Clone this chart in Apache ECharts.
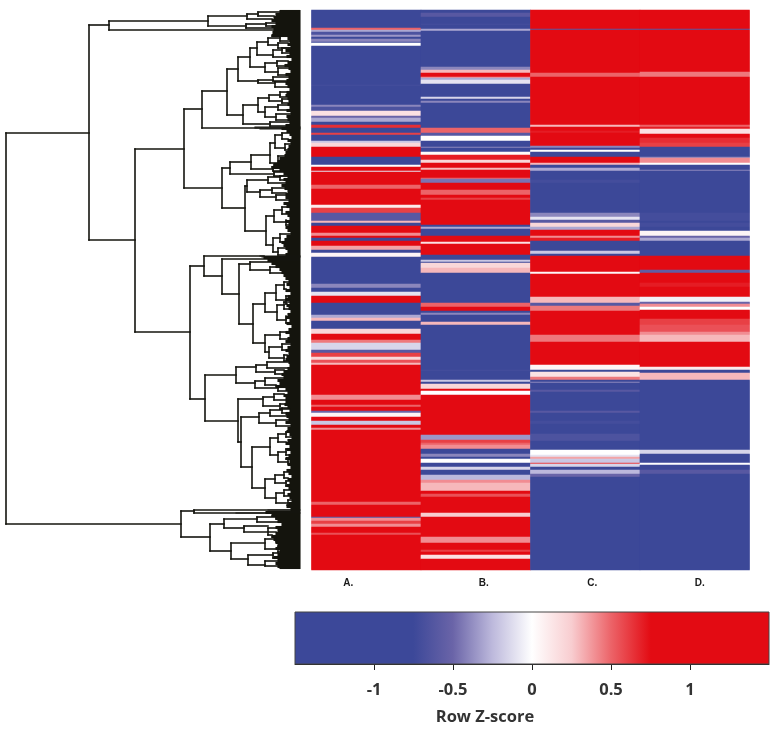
<!DOCTYPE html>
<html><head><meta charset="utf-8">
<style>html,body{margin:0;padding:0;background:#fff}#c{width:771px;height:729px}</style>
<script src="https://cdn.jsdelivr.net/npm/echarts@6/dist/echarts.min.js"></script>
</head><body><div id="c"></div>
<script>
// Samples and tick labels
const sampleNames = ['A.', 'B.', 'C.', 'D.'];
const keyTicks = [-1, -0.5, 0, 0.5, 1];
const keyColors = ['#3c4899','#3c4899','#3c4899','#3c4899','#6a64a8','#bdb9dc','#ffffff','#f8cdd0','#ec6368','#e30b13','#e30b13','#e30b13','#e30b13'];

// Row z-scores, as runs: [row where the run ends, z-score]
const colA = [[28,-1.3],[30,0.5],[32,-0.3],[35,-0.65],[37,-0.35],[39,-0.9],[42,-0.4],[43,-1.2],[46,0],[85,-1.2],[86,-0.7],[95,-1.2],[96,-0.75],[105,-1.2],[107,-0.4],[111,-0.65],[116,0.15],[118,-0.5],[122,-0.3],[124,-1.4],[125,-1],[128,0.65],[133,-1.2],[135,0.6],[141,-1.2],[143,-0.2],[147,0.2],[157,1.2],[165,-1.2],[167,0],[171,1.2],[172,-0.1],[185,1.2],[189,0.5],[200,1.2],[205,0.9],[208,0.1],[213,0.6],[221,-0.6],[223,0.3],[226,-1.2],[233,1.2],[236,0.4],[238,0.8],[241,-1.2],[246,1.2],[250,0.35],[253,-1.2],[257,0.05],[275,-1.2],[276,-0.9],[284,-1.2],[288,-0.4],[292,-1.4],[296,-0.1],[303,1.2],[315,-1.2],[318,-0.3],[321,0.3],[329,-1.2],[334,0.2],[340,1.2],[343,0.45],[350,-0.15],[353,-0.6],[357,0.6],[360,0.2],[363,0.55],[365,0.3],[395,1.2],[400,0.4],[405,1.2],[407,0.5],[411,1.2],[413,-0.5],[417,0.05],[421,1.2],[425,-0.2],[428,1.2],[430,0.4],[502,1.2],[505,0.5],[517,1.2],[518,-0.6],[521,0.4],[524,0.6],[527,0.4],[533,1.2],[535,0.55],[570,1.2]];
const colB = [[13,-1.2],[17,-0.6],[24,-1.2],[25,-0.7],[29,-1.2],[31,-0.3],[67,-1.2],[70,-0.4],[73,0.3],[77,0.9],[78,0.4],[80,-0.3],[84,-0.1],[97,-1.2],[99,-0.15],[101,-1.2],[103,-0.4],[124,-1.2],[128,-0.9],[133,0.5],[136,-0.6],[141,0],[147,-1.2],[148,-0.4],[152,-1.2],[155,0.02],[160,0.7],[163,0.2],[168,1.2],[170,0.3],[178,0.95],[179,0.5],[183,-0.45],[190,1.2],[195,0.5],[198,1.2],[200,0.6],[225,1.2],[227,-1.2],[229,-0.3],[236,-1.2],[242,0.75],[244,0.15],[255,1.2],[260,-1.2],[262,-0.2],[263,-1.3],[268,0.2],[273,0.3],[276,-1.2],[277,-0.8],[290,-1.2],[291,-0.75],[303,-1.2],[307,0.5],[311,1.1],[313,-1.2],[315,-0.4],[322,-1.2],[325,0.3],[370,-1.2],[371,-0.7],[380,-1.2],[382,-0.2],[384,-1.2],[389,0.2],[391,0.85],[395,0],[435,1.2],[440,-0.35],[443,0.6],[445,0.5],[449,0.4],[454,-1.2],[457,-0.4],[459,-1.2],[463,0],[467,-1.5],[470,-0.15],[475,-1.2],[480,-0.25],[483,0.4],[491,0.3],[494,1.2],[497,0.55],[513,1.2],[517,0.25],[537,1.2],[543,0.4],[550,1.2],[552,0.6],[555,1.2],[559,0.15],[570,1.1]];
const colC = [[29,1.2],[30,-0.6],[73,1.2],[77,0.5],[115,1.2],[116,0.75],[125,1.2],[127,0.3],[131,1.2],[133,0.7],[146,1.2],[148,-0.4],[150,-1.2],[152,0],[157,-1.2],[163,0.85],[165,0.3],[168,-1.2],[171,-0.3],[180,-1.2],[183,-0.7],[213,-1.2],[217,-0.4],[220,-0.1],[223,-0.6],[227,0.2],[230,-0.3],[236,0.8],[238,0.4],[241,0.7],[251,-1.2],[254,-0.2],[256,-1.2],[272,1.2],[274,0.05],[297,1.2],[303,0.3],[306,-0.6],[311,0.45],[335,1.2],[342,0.45],[365,0.95],[370,0.05],[372,-1.2],[377,0.15],[380,0.45],[382,-1.3],[383,-0.4],[390,-1.2],[392,-0.6],[411,-1.2],[413,-0.6],[421,-1.2],[424,-0.7],[434,-1.2],[441,-0.65],[450,-1.2],[455,0],[457,-0.1],[459,0.35],[463,-0.2],[464,0.6],[467,-0.15],[470,-1.2],[474,-0.25],[477,-0.5],[570,-1.2]];
const colD = [[29,1.2],[30,-0.6],[72,1.2],[77,0.45],[113,1.2],[116,0.75],[125,1.2],[127,0.5],[129,0.7],[134,0.15],[138,0.95],[143,0.65],[147,0.6],[157,-1.2],[158,-0.4],[163,0.4],[165,0],[170,-1.2],[171,-0.4],[181,-1.2],[183,-0.85],[213,-1.2],[221,-0.7],[223,-1.3],[227,-0.7],[231,-1.2],[236,0.05],[238,-0.5],[241,-0.3],[256,-1.2],[270,0.9],[273,-0.55],[283,1.2],[287,0.7],[297,0.85],[302,-0.05],[304,-0.5],[307,0.4],[310,0],[319,1.2],[325,0.6],[332,0.55],[335,0.4],[342,0.3],[353,0.95],[367,0.8],[370,0.1],[373,-1.2],[380,0.3],[412,-1.2],[413,-0.8],[450,-1.2],[454,-0.15],[463,-1.2],[465,0],[470,-1.2],[474,-0.6],[570,-1.2]];

// Dendrogram: [merge height, upper branch row, lower branch row, upper child, lower child]
const tree = [294,133,524,
 [211,25,240,
  [191,21,30,
   [92,16,26,
    [53,14,19,[42,12,16,null,null],null],
    [54,24,28,[34,23,26,null,null],null]],
   null],
  [165,149,332,
   [116,109,188,
    [98,91,128,
     [73,69,115,
      [62,57,81,
       [50,48,67,
        [43,42,55,[32,38,45,[20,36,41,null,null],[22,43,48,null,null]],[27,50,57,[18,48,53,null,null],null]],
        [35,63,72,[23,61,66,null,null],[22,68,75,null,null]]],
       [42,80,83,[27,77,81,null,null],[25,82,87,null,null]]],
      [57,105,124,
       [42,98,112,[31,95,101,[20,92,97,null,null],[18,99,103,null,null]],[35,107,117,[22,105,110,null,null],[24,114,120,null,null]]],
       [30,122,126,null,null]]],
     null],
    [78,168,208,
     [70,162,174,
      [49,155,169,
       [30,143,163,[25,135,148,[18,133,139,null,null],[15,144,150,null,null]],[22,156,165,null,null]],
       [27,167,171,null,null]],
      [26,172,176,null,null]],
     [55,186,231,
      [53,180,192,[32,177,183,[20,176,180,null,null],null],[40,190,197,[28,188,193,null,null],[24,195,200,null,null]]],
      [34,216,245,
       [26,210,222,[18,207,214,null,null],[14,220,225,null,null]],
       [27,238,252,[20,234,242,null,null],[22,248,255,null,null]]]]]],
   [110,266,399,
    [96,256,276,
     null,
     [78,259,294,
      null,
      [61,264,324,
       [50,262,270,null,[30,267,273,null,null]],
       [47,304,343,
        [35,293,312,[24,285,300,[16,282,289,null,null],[14,296,304,null,null]],[23,305,320,[16,302,309,null,null],[14,316,323,null,null]]],
        [35,335,352,[20,332,339,null,null],[31,347,358,[18,344,350,null,null],[16,355,361,null,null]]]]]]],
    [95,375,421,
     [64,367,383,
      [44,365,372,[33,362,368,null,null],[25,370,374,null,null]],
      [45,381,388,[35,378,385,null,null],[22,386,391,null,null]]],
     [62,399,442,
      [37,397,406,[26,394,400,null,null],[20,404,409,null,null]],
      [59,417,467,
       [41,413,423,[30,410,416,[18,408,413,null,null],null],[24,420,426,null,null]],
       [48,447,488,
        [30,438,455,[22,434,442,[14,432,437,null,null],null],[22,452,462,[14,449,455,null,null],[12,459,464,null,null]]],
        [35,479,498,[25,475,483,[16,472,478,null,null],[14,481,486,null,null]],[24,493,503,[16,490,496,null,null],[12,500,505,null,null]]]]]]]]]],
 [119,511,537,
  [106,510,513,null,null],
  [90,524,551,
   [76,519,528,[43,517,522,[24,516,519,null,null],null],[56,526,532,[32,528,535,null,null],null]],
   [69,543,559,
    [35,539,549,[24,537,542,null,null],[22,546,552,null,null]],
    [52,555,565,[27,553,558,null,null],[35,561,566,null,null]]]]]];

// Height where the dense leaves begin, one value per three rows from row 10
const leafReach = [20,24,26,28,24,28,26,27,28,12,
 10,12,9,14,10,13,8,12,15,11,
 9,14,11,13,14,12,10,13,14,12,
 11,12,10,13,9,13,12,10,14,18,
 13,10,8,12,9,11,12,14,15,20,
 22,26,28,20,16,12,16,14,18,15,
 12,14,14,11,16,13,10,14,12,10,
 14,11,14,12,9,13,15,18,16,14,
 12,14,36,32,28,24,20,18,16,14,
 11,13,10,14,9,12,14,10,13,11,
 9,12,14,10,13,8,11,14,10,12,
 14,9,12,14,11,13,14,11,10,12,
 16,18,16,22,20,24,14,12,16,14,
 14,15,12,10,14,13,11,14,9,12,
 13,10,8,12,14,10,13,9,11,14,
 10,12,9,13,11,8,12,10,13,11,
 9,12,10,8,11,13,9,34,28,24,
 22,18,24,22,24,28,26,24,22,24,
 20,22,26,22,24,22,20];
const longLeaves = [[127,45],[128,45],[129,40],[256,40],[257,38],[510,32],[513,64]];

const firstRow = 10, lastRow = 570;
const rowNames = [];
for (let r = firstRow; r < lastRow; r++) rowNames.push(String(r));
const heatData = [];
[colA, colB, colC, colD].forEach((runs, c) => {
  let start = firstRow;
  runs.forEach(([end, z]) => {
    for (let r = start; r < end; r++) heatData.push([c, r - firstRow, z]);
    start = end;
  });
});

const branches = [];
const reachAt = r => leafReach[Math.min(leafReach.length - 1, Math.floor((r - firstRow) / 3))];
function walk(node) {
  const [h, top, bot, a, b] = node;
  branches.push([h, top, h, bot]);
  [[top, a], [bot, b]].forEach(([y, child]) => {
    branches.push([h, y, child ? child[0] : reachAt(y), y]);
    if (child) walk(child);
  });
}
walk(tree);
const leafLines = [];
for (let r = firstRow; r < lastRow - 1; r++) leafLines.push([0, r + 0.5, reachAt(r), r + 0.5]);
longLeaves.forEach(([r, h]) => leafLines.push([0, r, h, r]));

const lineItem = (width) => (params, api) => {
  const p = api.coord([api.value(0), api.value(1)]);
  const q = api.coord([api.value(2), api.value(3)]);
  return {type: 'line', shape: {x1: p[0], y1: p[1], x2: q[0], y2: q[1]},
    style: {stroke: '#14140e', lineWidth: width, lineCap: 'square'}};
};

const chart = echarts.init(document.getElementById('c'), null, {renderer: 'canvas'});
const nudges = [-18, 8, 7, 5];
chart.setOption({
  animation: false,
  backgroundColor: '#ffffff',
  tooltip: {show: false},
  grid: [
    {left: 311.5, top: 10, width: 438, height: 560, outerBoundsMode: 'none'},
    {left: 0, top: 10, width: 300, height: 560, outerBoundsMode: 'none'},
    {left: 295, top: 612, width: 474, height: 52, outerBoundsMode: 'none'}
  ],
  xAxis: [
    {gridIndex: 0, type: 'category', data: sampleNames, axisLine: {show: false}, axisTick: {show: false},
     axisLabel: {margin: 8, interval: 0, fontFamily: 'Liberation Sans', fontWeight: 'bold', fontSize: 10, color: '#1a1a1a',
       formatter: (v, i) => '{n' + i + '|' + v + '}',
       rich: Object.fromEntries(nudges.map((n, i) => ['n' + i, {padding: n < 0 ? [0, -2 * n, 0, 0] : [0, 0, 0, 2 * n], fontFamily: 'Liberation Sans', fontWeight: 'bold', fontSize: 10, color: '#1a1a1a'}]))}},
    {gridIndex: 1, type: 'value', inverse: true, min: 0, max: 300, show: false},
    {gridIndex: 2, type: 'value', min: -1.5, max: 1.5, interval: 0.5,
     name: 'Row Z-score', nameLocation: 'middle', nameGap: 45,
     nameTextStyle: {fontFamily: 'Open Sans', fontWeight: 'bold', fontSize: 16.5, color: '#333', padding: [0, 94, 0, 0]},
     axisLine: {show: true, lineStyle: {color: '#222', width: 1}},
     axisTick: {show: true, length: 6, customValues: keyTicks, lineStyle: {color: '#222', width: 1}},
     axisLabel: {customValues: keyTicks, margin: 18, fontFamily: 'Open Sans', fontWeight: 'bold', fontSize: 16.5, color: '#333', hideOverlap: false},
     splitLine: {show: false}}
  ],
  yAxis: [
    {gridIndex: 0, type: 'category', inverse: true, data: rowNames, show: false},
    {gridIndex: 1, type: 'value', inverse: true, min: firstRow, max: lastRow, show: false},
    {gridIndex: 2, type: 'value', min: 0, max: 1, show: false}
  ],
  visualMap: {show: false, seriesIndex: 0, min: -1.5, max: 1.5, calculable: false, inRange: {color: keyColors}},
  series: [
    {type: 'heatmap', xAxisIndex: 0, yAxisIndex: 0, data: heatData, progressive: 0, emphasis: {disabled: true}, itemStyle: {borderWidth: 0}},
    {type: 'custom', xAxisIndex: 1, yAxisIndex: 1, data: leafLines, renderItem: lineItem(1.1), progressive: 0, encode: {x: [0, 2], y: [1, 3]}, silent: true},
    {type: 'custom', xAxisIndex: 1, yAxisIndex: 1, data: branches, renderItem: lineItem(1.6), progressive: 0, encode: {x: [0, 2], y: [1, 3]}, silent: true},
    {type: 'custom', xAxisIndex: 2, yAxisIndex: 2, data: [[-1.5, 1.5]], silent: true, encode: {x: [0, 1]},
     renderItem: (params, api) => {
       const p = api.coord([api.value(0), 1]);
       const q = api.coord([api.value(1), 0]);
       return {type: 'rect', shape: {x: p[0], y: p[1], width: q[0] - p[0], height: q[1] - p[1]},
         style: {stroke: '#444', lineWidth: 1,
           fill: new echarts.graphic.LinearGradient(0, 0, 1, 0, keyColors.map((color, i) => ({offset: i / (keyColors.length - 1), color})))}};
     }}
  ]
});
</script></body></html>
